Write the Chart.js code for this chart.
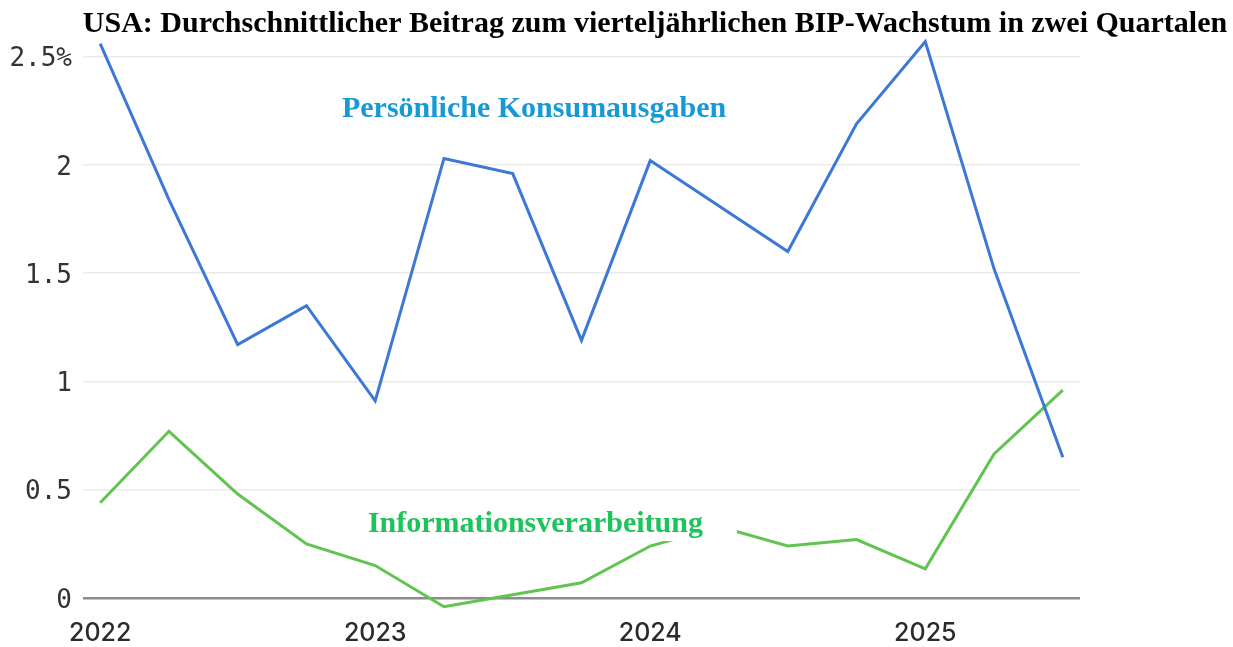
<!DOCTYPE html>
<html>
<head>
<meta charset="utf-8">
<script src="https://cdn.jsdelivr.net/npm/chart.js@4.4.0/dist/chart.umd.min.js"></script>
<style>
  html, body { margin: 0; padding: 0; background: #fff; }
  #wrap { width: 1233px; height: 647px; position: relative; }
</style>
</head>
<body>
<div id="wrap"><canvas id="chart" width="1233" height="647"></canvas></div>
<script>
// quarterly values, 2022 Q1 .. 2025 Q3
const quarters = ['2022 Q1', '2022 Q2', '2022 Q3', '2022 Q4',
                  '2023 Q1', '2023 Q2', '2023 Q3', '2023 Q4',
                  '2024 Q1', '2024 Q2', '2024 Q3', '2024 Q4',
                  '2025 Q1', '2025 Q2', '2025 Q3'];
const konsum = [2.56, 1.84, 1.17, 1.35, 0.91, 2.03, 1.96, 1.19, 2.02, 1.81, 1.60, 2.19, 2.57, 1.52, 0.65];
const information = [0.44, 0.77, 0.48, 0.25, 0.15, -0.04, 0.015, 0.07, 0.24, 0.33, 0.24, 0.27, 0.135, 0.665, 0.96];
const yearLabels = ['2022', '2023', '2024', '2025'];
const yTicks = [0, 0.5, 1, 1.5, 2, 2.5];

const titleText = 'USA: Durchschnittlicher Beitrag zum vierteljährlichen BIP-Wachstum in zwei Quartalen';
const konsumLabel = 'Persönliche Konsumausgaben';
const infoLabel = 'Informationsverarbeitung';

const toPoints = arr => arr.map((v, i) => ({ x: i, y: v }));

// title + series labels drawn on top of the plot
const labelsPlugin = {
  id: 'labels',
  afterDatasetsDraw(chart) {
    const { ctx, scales: { x, y } } = chart;
    ctx.save();
    // white box behind the green label (hides the line like the original)
    const bx0 = x.getPixelForValue(3.2), bx1 = x.getPixelForValue(9.26);
    const by0 = y.getPixelForValue(0.47), by1 = y.getPixelForValue(0.263);
    ctx.fillStyle = '#fff';
    ctx.fillRect(bx0, by0, bx1 - bx0, by1 - by0);

    ctx.textAlign = 'center';
    ctx.textBaseline = 'alphabetic';
    ctx.font = 'bold 30px "Liberation Serif", "Times New Roman", serif';
    ctx.fillStyle = '#1799d5';
    ctx.fillText(konsumLabel, x.getPixelForValue(6.31), y.getPixelForValue(2.22));
    ctx.fillStyle = '#1dc35b';
    ctx.fillText(infoLabel, x.getPixelForValue(6.33), y.getPixelForValue(0.305));

    ctx.font = 'bold 30px "Liberation Serif", "Times New Roman", serif';
    ctx.fillStyle = '#000';
    ctx.fillText(titleText, 655, 32);
    ctx.restore();
  }
};

new Chart(document.getElementById('chart'), {
  type: 'line',
  data: {
    datasets: [
      {
        label: konsumLabel,
        data: toPoints(konsum),
        borderColor: '#3d78d6',
        borderWidth: 3,
        pointRadius: 0,
        tension: 0,
        clip: false
      },
      {
        label: infoLabel,
        data: toPoints(information),
        borderColor: '#62c450',
        borderWidth: 3,
        pointRadius: 0,
        tension: 0,
        clip: false
      }
    ]
  },
  options: {
    responsive: false,
    animation: false,
    devicePixelRatio: 1,
    layout: { padding: { top: 35, right: 153, left: 0, bottom: 0 } },
    plugins: {
      legend: { display: false },
      tooltip: { enabled: false }
    },
    scales: {
      x: {
        type: 'linear',
        min: -0.25,
        max: 14.25,
        afterBuildTicks: axis => { axis.ticks = yearLabels.map((_, i) => ({ value: i * 4 })); },
        afterFit: scale => { scale.height = 36; },
        grid: { display: false, drawTicks: false },
        border: { display: false },
        ticks: {
          padding: 7,
          color: '#2b2b2b',
          font: { family: 'Inter', size: 25, weight: '500' },
          maxRotation: 0,
          callback: v => yearLabels[v / 4]
        }
      },
      y: {
        min: -0.06,
        max: 2.6,
        afterBuildTicks: axis => { axis.ticks = yTicks.map(v => ({ value: v })); },
        afterFit: scale => { scale.width = 83; },
        grid: {
          drawTicks: false,
          color: c => c.tick && c.tick.value === 0 ? '#8c8c8c' : '#ebebeb',
          lineWidth: c => c.tick && c.tick.value === 0 ? 2.5 : 1.5
        },
        border: { display: false },
        ticks: {
          padding: 11,
          labelOffset: 3,
          color: '#333',
          font: { family: '"DejaVu Sans Mono", monospace', size: 26 },
          callback: v => v === 2.5 ? '2.5%' : String(v)
        }
      }
    }
  },
  plugins: [labelsPlugin]
});
</script>
</body>
</html>
